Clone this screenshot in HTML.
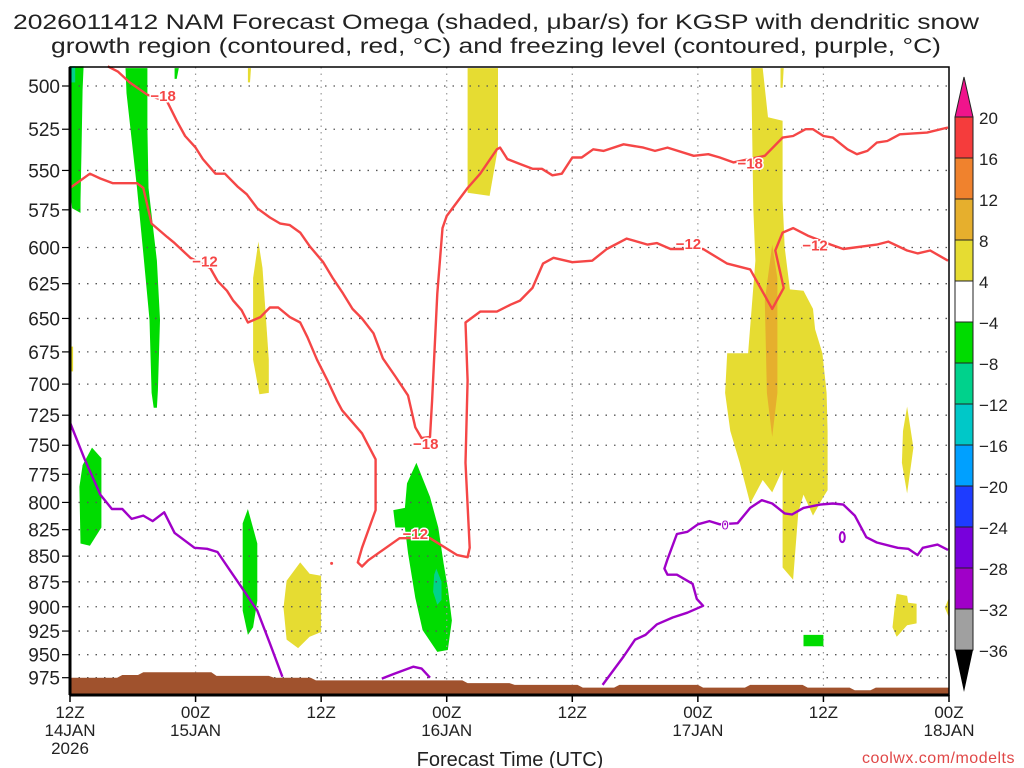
<!DOCTYPE html>
<html><head><meta charset="utf-8">
<style>
html,body{margin:0;padding:0;background:#fff;}
svg{display:block;font-family:"Liberation Sans",sans-serif;}
</style></head>
<body>
<svg id="chart" width="1024" height="768" viewBox="0 0 1024 768" xmlns="http://www.w3.org/2000/svg">
<rect width="1024" height="768" fill="#fff"/>
<text x="496" y="29" text-anchor="middle" font-size="21" fill="#222" textLength="966" lengthAdjust="spacingAndGlyphs">2026011412 NAM Forecast Omega (shaded, μbar/s) for KGSP with dendritic snow</text>
<text x="496" y="53" text-anchor="middle" font-size="21" fill="#222" textLength="890" lengthAdjust="spacingAndGlyphs">growth region (contoured, red, °C) and freezing level (contoured, purple, °C)</text>
<g id="shades"></g>
<g id="grid"></g>
<g id="terrain"></g>
<g id="lines"></g>
<g id="axes"></g>
<g id="cbar"></g>
<text x="510" y="766" text-anchor="middle" font-size="20" fill="#222">Forecast Time (UTC)</text>
<text x="1015" y="763" text-anchor="end" font-size="16" fill="#e04848" letter-spacing="0.5">coolwx.com/modelts</text>
</svg>
<script>
// ---- data (hours since 12Z 14JAN, pressure hPa) ----
const pressureTicks=[500,525,550,575,600,625,650,675,700,725,750,775,800,825,850,875,900,925,950,975];
const timeTickHours=[0,12,24,36,48,60,72,84];
const timeTickLabels=[["12Z","14JAN","2026"],["00Z","15JAN"],["12Z"],["00Z","16JAN"],["12Z"],["00Z","17JAN"],["12Z"],["00Z","18JAN"]];
const cbarLevels=[20,16,12,8,4,-4,-8,-12,-16,-20,-24,-28,-32,-36];
const cbarColors=["#f53c3c","#f0822d","#e6af2d","#e6dc32","#ffffff","#00dc00","#00d28c","#00c8c8","#00a0ff","#1e3cff","#7800dc","#a000c8","#a0a0a0"];
const terrainSurface=[[0,975],[4.5,975],[5,972],[6.5,972],[7,969],[13.5,969],[14,973],[19,973],[19.5,975],[23,975],[23.5,978],[37.5,978],[38,981],[42,981],[42.5,983],[48.5,983],[49,986],[52,986],[52.5,983],[60,983],[60.5,986],[64.5,986],[65,983],[70,983],[70.5,986],[74.5,986],[75,989],[76.5,989],[77,986],[84,986]];
const greenAreas=[
 [[0,489],[1.3,489],[1.2,502],[1.1,538],[1.0,569],[1.0,577],[0.2,574],[0,560]],
 [[5.3,490],[7.4,490],[7.4,524],[7.5,561],[8.3,609],[8.6,651],[8.4,705],[8.3,719],[8.0,719],[7.8,707],[7.6,651],[7.0,604],[6.4,561],[5.4,504]],
 [[10.0,490],[10.4,490],[10.2,496],[10.0,496]],
 [[2.1,752],[3.0,761],[3.0,823],[1.9,840],[1.0,838],[0.9,786],[1.2,767]],
 [[17.0,806],[17.9,838],[17.9,894],[17.5,921],[17.0,929],[16.5,904],[16.5,819]],
 [[33.1,765],[34.4,795],[35.2,823],[35.7,857],[36.1,881],[36.5,914],[36.1,945],[35.1,947],[33.7,924],[33.0,891],[32.3,847],[32.0,823],[31.1,823],[30.9,807],[32.0,805],[32.2,783]],
 [[70.1,929],[72.0,929],[72.0,941],[70.1,941]]
];
const tealAreas=[
 [[0,489],[0.5,489],[0.5,498],[0,498]],
 [[35.0,862],[35.5,875],[35.5,893],[35.1,898],[34.7,885],[34.8,868]]
];
const yellowAreas=[
 [[17.0,490],[17.3,490],[17.2,498],[17.0,498]],
 [[18.0,596],[18.4,614],[19.0,681],[19.0,707],[18.1,708],[17.5,681],[17.5,621]],
 [[0,671],[0.3,671],[0.3,690],[0,690]],
 [[22.0,856],[22.9,867],[24.0,869],[24.0,926],[22.9,931],[21.8,943],[20.7,934],[20.4,901],[20.7,874]],
 [[38.0,490],[40.9,490],[40.9,536],[40.1,566],[38.0,564]],
 [[65.1,490],[66.2,490],[66.7,518],[68.1,520],[68.1,569],[68.3,600],[68.8,629],[70.1,630],[71.0,643],[71.2,658],[71.9,676],[72.3,707],[72.4,738],[72.4,789],[72.0,795],[71.0,812],[70.1,793],[69.6,809],[69.1,873],[68.1,861],[68.1,771],[67.1,791],[66.2,780],[65.0,801],[64.0,765],[63.1,738],[62.6,707],[62.8,676],[64.8,676],[65.5,609],[65.3,574]],
 [[67.9,490],[68.2,490],[68.1,501],[67.9,501]],
 [[80.0,718],[80.6,752],[80.0,792],[79.5,765],[79.6,738]],
 [[79.0,887],[80.0,889],[80.1,896],[80.9,897],[80.9,917],[80.0,919],[79.0,931],[78.6,921],[78.8,901]],
 [[83.6,901],[84,891],[84,911]]
];
const orangeAreas=[[[67.1,598],[67.6,621],[67.6,707],[67.1,743],[66.6,707],[66.4,637],[66.9,609]]];
const contourMinus18=[[3.6,489],[4.6,492],[5.7,498],[7.4,505],[9.3,509],[10.2,520],[11.0,529],[12.0,536],[12.7,543],[13.9,552],[14.8,552],[16.0,560],[16.9,565],[17.9,574],[19.1,580],[20.1,584],[21.0,585],[22.0,590],[22.9,599],[24.2,610],[25.1,621],[26.1,632],[27.0,643],[27.9,650],[29.0,661],[29.9,680],[31.1,694],[32.3,709],[33.0,735],[33.6,744],[34.4,743],[34.6,713],[35.1,632],[35.6,587],[36.0,579],[38.0,561],[39.2,552],[40.8,537],[41.1,536],[41.8,543],[43.0,546],[44.2,549],[45.1,549],[46.1,553],[47.0,552],[48.0,542],[48.9,542],[50.0,537],[51.0,538],[52.9,534],[54.8,536],[55.9,538],[57.1,536],[59.6,541],[61.0,540],[62.1,542],[63.4,545],[66.4,541],[68.1,530],[69.1,529],[70.3,525],[71.0,525],[72.0,529],[72.9,530],[74.3,537],[75.2,540],[76.2,538],[77.1,533],[78.1,532],[79.3,528],[81.9,527],[83.9,524]];
const contourMinus12=[[0,561],[1.9,552],[2.9,555],[4.1,558],[6.4,558],[7.0,561],[7.8,584],[9.3,593],[10.0,597],[11.5,607],[13.4,614],[14.1,623],[15.0,630],[15.6,637],[16.4,644],[17.0,653],[18.2,649],[19.1,642],[19.9,642],[21.0,649],[22.0,653],[22.7,664],[23.6,681],[24.6,697],[25.5,713],[26.0,721],[27.9,740],[29.2,762],[29.2,807],[27.9,842],[27.5,856],[27.9,860],[28.5,854],[31.5,833],[34.4,833],[37.0,849],[38.0,851],[38.2,842],[37.8,765],[38.0,697],[37.8,653],[39.2,645],[40.8,645],[42.1,640],[43.0,637],[44.2,628],[45.2,611],[46.2,607],[48.0,610],[49.9,609],[51.3,601],[53.2,594],[55.2,598],[56.1,597],[57.4,601],[60.5,601],[62.8,611],[65.0,615],[67.1,643],[68.2,628],[67.4,602],[68.1,590],[69.1,587],[70.5,592],[72.7,598],[73.9,601],[77.1,598],[78.2,596],[80.0,602],[81.0,604],[82.2,602],[83.9,609]];
const freezingLevel=[[0,731],[1.4,762],[2.9,793],[4.0,806],[5.0,806],[5.9,815],[7.0,812],[7.9,817],[9.0,809],[10.0,828],[11.9,842],[13.1,843],[14.1,846],[15.3,864],[16.5,882],[17.9,904],[19.1,938],[20.3,974]];
const freezingArc=[[29.8,976],[30.9,971],[32.8,963],[33.6,965],[34.4,975]];
const freezingRight=[[50.9,983],[52.9,952],[54.0,934],[55.0,929],[56.1,918],[57.6,911],[59.0,906],[60.5,899],[59.9,892],[59.5,877],[58.0,868],[57.1,868],[56.8,862],[57.1,853],[58.0,829],[59.0,827],[60.0,820],[61.1,817],[62.1,820],[63.8,819],[65.0,805],[66.1,798],[67.1,801],[68.3,810],[69.0,811],[70.1,805],[71.7,802],[72.9,801],[73.9,802],[75.0,812],[76.1,832],[77.1,837],[79.1,842],[80.1,843],[81.0,849],[81.5,842],[82.9,839],[83.9,844]];
const contourLabels=[["−18",8.9,505],["−18",34.0,748],["−18",65.0,545],["−12",12.9,609],["−12",33.0,828],["−12",59.1,597],["−12",71.2,598]];

// ---- axes functions ----
const X0=70,X1=949,Y0=67,Y1=695;
function xs(h){return X0+h*(X1-X0)/84;}
function ys(p){return 86+886*Math.log(p/500);}
const NS="http://www.w3.org/2000/svg";
function mk(tag,attrs,parent){const e=document.createElementNS(NS,tag);for(const k in attrs)e.setAttribute(k,attrs[k]);parent.appendChild(e);return e;}
function pts(arr){return arr.map(d=>xs(d[0]).toFixed(1)+","+ys(d[1]).toFixed(1)).join(" ");}

const shades=document.getElementById('shades');
function drawAreas(list,color,name){list.forEach(a=>{const e=mk('polygon',{points:pts(a),fill:color},shades);

});}
drawAreas(yellowAreas,"#e6dc32","upward-omega-area");
drawAreas(orangeAreas,"#e6af2d","strong-upward-omega-area");
drawAreas(greenAreas,"#00dc00","downward-omega-area");
drawAreas(tealAreas,"#00d28c","strong-downward-omega-area");

// grid
const grid=document.getElementById('grid');
pressureTicks.forEach(p=>{const y=ys(p);const l=mk('line',{x1:X0,x2:X1,y1:y,y2:y,stroke:"#555","stroke-width":1.3,"stroke-dasharray":"1.5 7"},grid);

});
timeTickHours.slice(1,-1).forEach(h=>{const x=xs(h);const l=mk('line',{x1:x,x2:x,y1:Y0,y2:Y1,stroke:"#999","stroke-width":1.2,"stroke-dasharray":"1.5 5"},grid);

});

// terrain
const ter=document.getElementById('terrain');
const tp=terrainSurface.concat([[84,1000],[0,1000]]);
const tpoly=mk('polygon',{points:tp.map(d=>xs(d[0]).toFixed(1)+","+Math.min(Y1,ys(d[1])).toFixed(1)).join(" "),fill:"#a0522d"},ter);



// lines
const lines=document.getElementById('lines');
function drawLine(arr,color,name){const e=mk('polyline',{points:pts(arr),fill:"none",stroke:color,"stroke-width":2.4,"stroke-linejoin":"round"},lines);

}
drawLine(contourMinus18,"#f54646","contour-minus18");
drawLine(contourMinus12,"#f54646","contour-minus12");
drawLine(freezingLevel,"#a000c8","freezing-level-left");
drawLine(freezingArc,"#a000c8","freezing-level-arc");
drawLine(freezingRight,"#a000c8","freezing-level-right");
const loop=mk('ellipse',{cx:xs(73.8),cy:ys(832),rx:2.5,ry:5,fill:"none",stroke:"#a000c8","stroke-width":2},lines);


const dot=mk('circle',{cx:xs(25),cy:ys(857),r:1.5,fill:"#f54646"},lines);


contourLabels.forEach(c=>{const x=xs(c[1]),y=ys(c[2]);
const bg=mk('rect',{x:x-13,y:y-8,width:26,height:15,fill:"#fff","fill-opacity":0.0},lines);


const t=mk('text',{x:x,y:y+6,"text-anchor":"middle","font-size":15,"font-weight":"bold",fill:"#f54646",stroke:"#fff","stroke-width":3,"paint-order":"stroke"},lines);t.textContent=c[0];

});
const zl=mk('text',{x:xs(62.6),y:ys(820)+5,"text-anchor":"middle","font-size":13,fill:"#a000c8",stroke:"#fff","stroke-width":2,"paint-order":"stroke"},lines);zl.textContent="0";



// axes
const ax=document.getElementById('axes');
const fr=mk('rect',{x:X0,y:Y0,width:X1-X0,height:Y1-Y0,fill:"none",stroke:"#000","stroke-width":1.5},ax);


mk('line',{x1:X0,x2:X0,y1:Y0,y2:Y1,stroke:"#000","stroke-width":3},ax);
mk('line',{x1:X0,x2:X1,y1:Y1,y2:Y1,stroke:"#000","stroke-width":3},ax);
pressureTicks.forEach(p=>{const y=ys(p);mk('line',{x1:X0-8,x2:X0,y1:y,y2:y,stroke:"#000","stroke-width":1.2},ax);
const t=mk('text',{x:X0-10,y:y+7,"text-anchor":"end","font-size":19,fill:"#222"},ax);t.textContent=p;

});
timeTickHours.forEach((h,i)=>{const x=xs(h);mk('line',{x1:x,x2:x,y1:Y1,y2:Y1+7,stroke:"#000","stroke-width":1.5},ax);
timeTickLabels[i].forEach((s,j)=>{const t=mk('text',{x:x,y:718+j*18,"text-anchor":"middle","font-size":17,fill:"#222"},ax);t.textContent=s;

});});

// colorbar
const cb=document.getElementById('cbar');
const CX=955,CW=18,CTOP=117,CH=41;
cbarColors.forEach((c,i)=>{const r=mk('rect',{x:CX,y:CTOP+i*CH,width:CW,height:CH,fill:c,stroke:"#222","stroke-width":1},cb);

});
const tri1=mk('polygon',{points:`${CX},${CTOP} ${CX+CW},${CTOP} ${CX+CW/2},${CTOP-40}`,fill:"#f0148c",stroke:"#222","stroke-width":1},cb);


const bot=CTOP+cbarColors.length*CH;
const tri2=mk('polygon',{points:`${CX},${bot} ${CX+CW},${bot} ${CX+CW/2},${bot+42}`,fill:"#000"},cb);


cbarLevels.forEach((v,i)=>{const t=mk('text',{x:979,y:CTOP+i*CH+7,"font-size":17,fill:"#222"},cb);t.textContent=v<0?"−"+Math.abs(v):v;

});
</script>
</body></html>
